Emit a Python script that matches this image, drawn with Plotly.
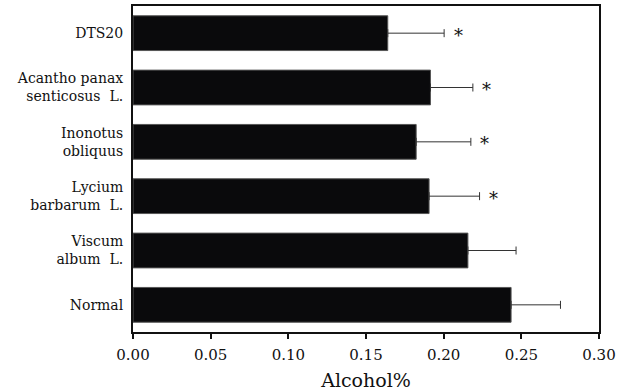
import plotly.graph_objects as go

categories = ["DTS20", "Acantho panax<br>senticosus  L.", "Inonotus<br>obliquus",
              "Lycium<br>barbarum  L.", "Viscum<br>album  L.", "Normal"]
values = [0.164, 0.1915, 0.1823, 0.1906, 0.2156, 0.2434]
errors = [0.0363, 0.0273, 0.0352, 0.0325, 0.031, 0.0318]
significant = [True, True, True, True, False, False]
x_ticks = [0.0, 0.05, 0.10, 0.15, 0.20, 0.25, 0.30]
x_tick_labels = ["0.00", "0.05", "0.10", "0.15", "0.20", "0.25", "0.30"]

FONT = "DejaVu Serif, serif"

fig = go.Figure()
fig.add_trace(go.Bar(
    x=values, y=categories, orientation="h",
    marker=dict(color="#0a0a0c", line=dict(color="#555555", width=1)),
    error_x=dict(type="data", symmetric=False, array=errors,
                 arrayminus=[0] * len(errors), color="#333333",
                 thickness=1, width=4),
    showlegend=False,
))

for cat, v, e, s in zip(categories, values, errors, significant):
    if s:
        fig.add_annotation(x=v + e, y=cat, text="*", showarrow=False,
                           xanchor="center", yanchor="middle", xshift=14, yshift=-2,
                           font=dict(family=FONT, size=18, color="#111111"))

fig.update_layout(
    width=620, height=392,
    margin=dict(l=133, r=19, t=4, b=59),
    paper_bgcolor="white", plot_bgcolor="white",
    bargap=0.36,
    font=dict(family=FONT, color="#111111"),
)
fig.update_xaxes(
    range=[0, 0.30], tickvals=x_ticks, ticktext=x_tick_labels,
    showline=True, mirror=True, linecolor="#111111", linewidth=2,
    ticks="outside", ticklen=5, tickwidth=1.5, tickcolor="#111111",
    tickfont=dict(size=15, family=FONT), showgrid=False, zeroline=False,
    ticklabelstandoff=3,
    title=dict(text="Alcohol%", font=dict(size=19, family=FONT), standoff=11),
)
fig.update_yaxes(
    categoryorder="array", categoryarray=categories, autorange="reversed",
    showline=True, mirror=True, linecolor="#111111", linewidth=2,
    ticks="", tickfont=dict(size=14, family=FONT), showgrid=False,
    ticklabelstandoff=5,
)

fig.write_html("out.html")
